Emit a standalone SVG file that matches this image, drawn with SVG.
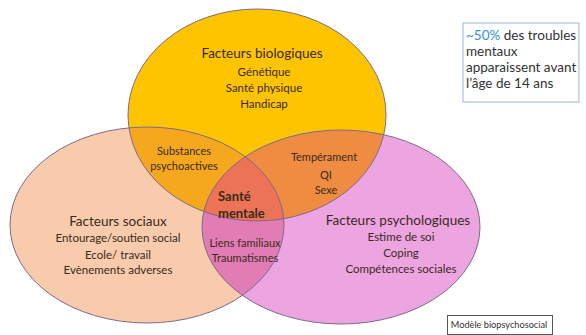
<svg xmlns="http://www.w3.org/2000/svg" width="586" height="335" viewBox="0 0 586 335">
<defs>
<style>
text{font-family:Lato,"Open Sans","Liberation Sans",sans-serif;fill:#3a2a1a;text-anchor:middle}
.t{font-size:13.5px}
.i{font-size:11.5px}
.ov{font-size:11px}
.b{font-size:13px;font-weight:bold;text-anchor:start}
.edge{fill:none;stroke:#7d6b88;stroke-width:1}
.note{font-size:13.5px;text-anchor:start;fill:#333}
</style>
<clipPath id="cY"><ellipse cx="257" cy="115" rx="129" ry="106"/></clipPath>
<clipPath id="cP"><ellipse cx="147" cy="225" rx="137" ry="98"/></clipPath>
<clipPath id="cM"><ellipse cx="341" cy="227" rx="139" ry="97"/></clipPath>
</defs>
<rect width="586" height="335" fill="#ffffff"/>
<g id="shapes">
<ellipse cx="257" cy="115" rx="129" ry="106" fill="#FFC400"/>
<ellipse cx="147" cy="225" rx="137" ry="98" fill="#F8CBAD"/>
<ellipse cx="341" cy="227" rx="139" ry="97" fill="#EDA5E2"/>
<g clip-path="url(#cY)">
<ellipse cx="147" cy="225" rx="137" ry="98" fill="#F5A81E"/>
<ellipse cx="341" cy="227" rx="139" ry="97" fill="#F08C42"/>
</g>
<g clip-path="url(#cP)">
<ellipse cx="341" cy="227" rx="139" ry="97" fill="#E27CB4"/>
<g clip-path="url(#cY)"><ellipse cx="341" cy="227" rx="139" ry="97" fill="#EC7355"/></g>
</g>
<ellipse class="edge" cx="257" cy="115" rx="129" ry="106"/>
<ellipse class="edge" cx="147" cy="225" rx="137" ry="98"/>
<ellipse class="edge" cx="341" cy="227" rx="139" ry="97"/>
</g>
<g id="bio">
<text class="t" x="262" y="58">Facteurs biologiques</text>
<text class="i" x="264" y="76">Génétique</text>
<text class="i" x="264" y="92">Santé physique</text>
<text class="i" x="264" y="108">Handicap</text>
</g>
<g id="social">
<text class="t" x="118" y="226">Facteurs sociaux</text>
<text class="i" x="118" y="242">Entourage/soutien social</text>
<text class="i" x="118" y="259">Ecole/ travail</text>
<text class="i" x="118" y="274">Evènements adverses</text>
</g>
<g id="psycho">
<text class="t" x="398" y="225">Facteurs psychologiques</text>
<text class="i" x="401" y="241">Estime de soi</text>
<text class="i" x="401" y="257">Coping</text>
<text class="i" x="401" y="273">Compétences sociales</text>
</g>
<g id="bio-social">
<text class="ov" x="184" y="155">Substances</text>
<text class="ov" x="184" y="170">psychoactives</text>
</g>
<g id="bio-psycho">
<text class="ov" x="324" y="161">Tempérament</text>
<text class="ov" x="326" y="179">QI</text>
<text class="ov" x="326" y="194">Sexe</text>
</g>
<g id="social-psycho">
<text class="ov" x="245" y="247">Liens familiaux</text>
<text class="ov" x="245" y="262">Traumatismes</text>
</g>
<g id="center">
<text class="b" x="218" y="201">Santé</text>
<text class="b" x="218" y="218">mentale</text>
</g>
<g id="note">
<rect x="463" y="23" width="116" height="79" fill="#ffffff" stroke="#9fb4cf" stroke-width="1"/>
<text class="note" x="466" y="40"><tspan fill="#3b8fd0">~50%</tspan> des troubles</text>
<text class="note" x="466" y="56">mentaux</text>
<text class="note" x="466" y="72">apparaissent avant</text>
<text class="note" x="466" y="88">l’âge de 14 ans</text>
</g>
<g id="caption">
<rect x="447.5" y="315.5" width="105" height="19" fill="#ffffff" stroke="#555" stroke-width="1"/>
<text style="font-size:9.2px;fill:#333" x="499" y="328">Modèle biopsychosocial</text>
</g>
</svg>
